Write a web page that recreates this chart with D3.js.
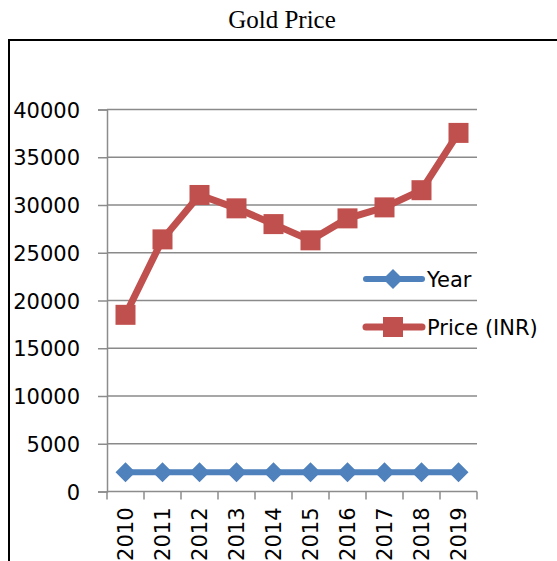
<!DOCTYPE html>
<html>
<head>
<meta charset="utf-8">
<script src="https://cdn.jsdelivr.net/npm/d3@7"></script>
<style>
  body { margin: 0; background: #fff; }
  svg { display: block; }
</style>
</head>
<body>
<div id="chart"></div>
<script>
var years = ["2010","2011","2012","2013","2014","2015","2016","2017","2018","2019"];
var yearValues = [2010,2011,2012,2013,2014,2015,2016,2017,2018,2019];
var priceValues = [18500,26400,31050,29650,28000,26300,28600,29750,31550,37550];
var yTicks = [0,5000,10000,15000,20000,25000,30000,35000,40000];
var seriesNames = ["Year","Price (INR)"];

var W = 557, H = 561;
var svg = d3.select("#chart").append("svg")
  .attr("width", W).attr("height", H);

// outer chart frame (runs off the right and bottom)
svg.append("path")
  .attr("d", "M9,562 L9,40 L560,40")
  .attr("fill", "none")
  .attr("stroke", "#000")
  .attr("stroke-width", 2);

svg.append("text")
  .attr("x", 282).attr("y", 28)
  .attr("text-anchor", "middle")
  .style("font-family", "'Liberation Serif', 'Times New Roman', serif")
  .style("font-size", "25px")
  .text("Gold Price");

var margin = {left: 107, top: 109.5, right: 477, bottom: 491.5};

var x = d3.scaleBand().domain(years).range([margin.left, margin.right]);
var y = d3.scaleLinear().domain([0, 40000]).range([margin.bottom, margin.top]);

var font = "'DejaVu Sans', sans-serif";

// gridlines + y ticks
var gy = svg.append("g")
  .attr("transform", "translate(" + margin.left + ",0)")
  .call(d3.axisLeft(y).tickValues(yTicks).tickSize(9).tickPadding(18).tickFormat(d3.format("d")));
gy.select(".domain").attr("stroke", "#8c8c8c").attr("stroke-width", 1.5);
gy.selectAll(".tick line").attr("stroke", "#8c8c8c").attr("stroke-width", 1.5);
gy.selectAll(".tick text").style("font-family", font).style("font-size", "21px").attr("fill", "#000").attr("dy", "0.36em");

svg.append("g").selectAll("line")
  .data(yTicks.filter(function(d){ return d > 0; }))
  .enter().append("line")
  .attr("x1", margin.left).attr("x2", margin.right)
  .attr("y1", function(d){ return y(d); })
  .attr("y2", function(d){ return y(d); })
  .attr("stroke", "#8a8a8a")
  .attr("stroke-width", 1.6);

// x axis, ticks on band boundaries
var gx = svg.append("g")
  .attr("transform", "translate(0," + margin.bottom + ")");
gx.append("line")
  .attr("x1", margin.left).attr("x2", margin.right)
  .attr("stroke", "#8c8c8c").attr("stroke-width", 1.5);
var bounds = years.map(function(d){ return x(d); }).concat([margin.right]);
gx.selectAll(".xt").data(bounds).enter().append("line")
  .attr("x1", function(d){ return d; }).attr("x2", function(d){ return d; })
  .attr("y1", 0).attr("y2", 8)
  .attr("stroke", "#8c8c8c").attr("stroke-width", 1.5);
gx.selectAll(".xl").data(years).enter().append("text")
  .attr("transform", function(d){ return "translate(" + (x(d) + x.bandwidth()/2 + 7) + ",16) rotate(-90)"; })
  .attr("text-anchor", "end")
  .style("font-family", font).style("font-size", "21px")
  .text(function(d){ return d; });

var colors = ["#4f81bd", "#c0504d"];
var widths = [6, 7];
var allSeries = [yearValues, priceValues];

var line = d3.line()
  .x(function(d, i){ return x(years[i]) + x.bandwidth()/2; })
  .y(function(d){ return y(d); });

var square = function(g, cx, cy, color){
  g.append("rect")
    .attr("x", cx - 10).attr("y", cy - 10)
    .attr("width", 20).attr("height", 20)
    .attr("fill", color);
};
var diam = function(g, cx, cy, color){
  g.append("path")
    .attr("d", "M" + cx + "," + (cy - 10) + " L" + (cx + 10) + "," + cy + " L" + cx + "," + (cy + 10) + " L" + (cx - 10) + "," + cy + "Z")
    .attr("fill", color);
};
var markers = [diam, square];

allSeries.forEach(function(vals, s){
  var g = svg.append("g");
  g.append("path")
    .datum(vals)
    .attr("fill", "none")
    .attr("stroke", colors[s])
    .attr("stroke-width", widths[s])
    .attr("stroke-linejoin", "round")
    .attr("d", line);
  vals.forEach(function(v, i){
    markers[s](g, x(years[i]) + x.bandwidth()/2, y(v), colors[s]);
  });
});

// legend
var legY = [279, 327];
seriesNames.forEach(function(name, s){
  var g = svg.append("g");
  g.append("line")
    .attr("x1", 366).attr("x2", 422)
    .attr("y1", legY[s]).attr("y2", legY[s])
    .attr("stroke", colors[s]).attr("stroke-width", widths[s])
    .attr("stroke-linecap", "round");
  markers[s](g, 393, legY[s], colors[s]);
  g.append("text")
    .attr("x", 427).attr("y", legY[s])
    .attr("dy", "0.36em")
    .style("font-family", font).style("font-size", "21px")
    .text(name);
});
</script>
</body>
</html>
